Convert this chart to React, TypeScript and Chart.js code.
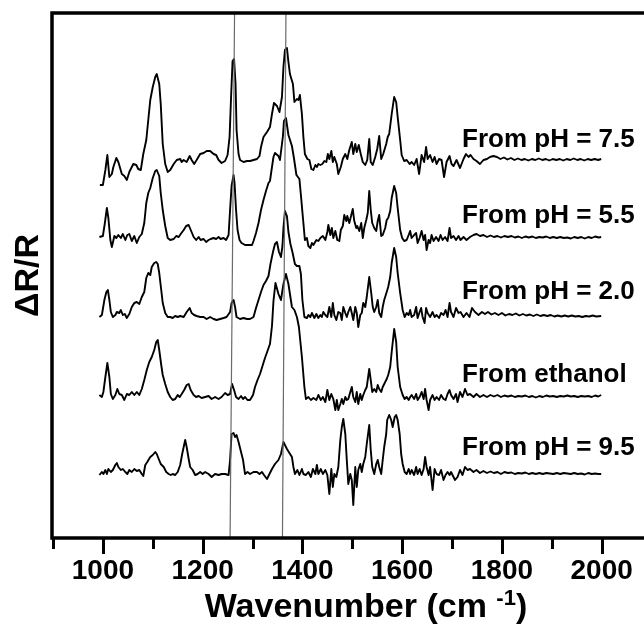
import { useEffect, useRef } from "react";
import { Chart, registerables } from "chart.js";

Chart.register(...registerables);

const FONT = '"Liberation Sans", Arial, Helvetica, sans-serif';

// ---- data (wavenumber cm-1, relative ΔR/R in arbitrary units) ----
const TRACE_NAMES = ["From pH = 7.5", "From pH = 5.5", "From pH = 2.0", "From ethanol", "From pH = 9.5"];
const OFFSETS = [379, 301, 222, 142, 65];
const LABEL_Y = [391, 315, 239, 156, 83];
const LABEL_WN = 1720;

const PH75: number[][] = [
  [994,-26],[1000,-26],[1005,-11],[1009,4],[1013,-18],[1018,-15],[1021,-8],[1027,1],[1031,-3],[1038,-15],[1043,-17],[1048,-21],[1053,-13],[1061,-5],[1067,-6],[1071,-10],[1076,-11],[1081,5],[1087,19],[1091,39],[1095,59],[1100,72],[1105,82],[1108,85],[1113,75],[1116,55],[1120,15],[1125,-5],[1130,-13],[1135,-11],[1142,-5],[1148,-1],[1155,0],[1158,-3],[1162,-1],[1168,-3],[1174,3],[1178,-1],[1183,-5],[1188,-1],[1195,5],[1202,6],[1208,8],[1215,8],[1222,5],[1227,4],[1232,-1],[1238,-4],[1245,-2],[1250,4],[1254,22],[1257,62],[1260,98],[1263,100],[1266,75],[1268,29],[1272,5],[1275,-1],[1282,-3],[1289,-2],[1295,-2],[1302,-1],[1309,0],[1314,3],[1317,12],[1322,22],[1329,27],[1335,32],[1339,45],[1343,56],[1349,53],[1354,47],[1359,62],[1362,92],[1365,109],[1369,111],[1372,97],[1375,85],[1381,75],[1384,57],[1389,60],[1392,59],[1395,64],[1399,45],[1402,22],[1405,5],[1410,0],[1414,-1],[1418,-10],[1422,-11],[1426,-6],[1429,-8],[1432,-5],[1436,-6],[1440,-5],[1444,-2],[1448,-3],[1451,5],[1454,0],[1458,8],[1461,-3],[1464,2],[1469,-5],[1472,-15],[1477,-8],[1481,0],[1486,5],[1490,0],[1494,9],[1499,17],[1502,5],[1506,15],[1509,7],[1513,14],[1517,5],[1521,-3],[1526,-6],[1530,-1],[1534,20],[1537,-3],[1541,-6],[1546,2],[1550,10],[1554,23],[1558,0],[1562,5],[1568,15],[1571,22],[1574,25],[1579,45],[1584,62],[1588,57],[1591,42],[1596,19],[1599,4],[1604,-2],[1609,-1],[1615,-5],[1619,-3],[1624,-6],[1629,0],[1634,-15],[1639,4],[1644,-3],[1648,12],[1651,0],[1656,4],[1661,-3],[1665,2],[1669,-5],[1674,0],[1679,-1],[1684,-18],[1689,-3],[1695,3],[1699,-5],[1703,-7],[1709,-1],[1716,-9],[1723,0],[1728,5],[1733,2],[1737,4],[1743,0],[1749,-2],[1756,-5],[1763,-1],[1770,0],[1776,2],[1783,3],[1790,2],[1797,0],[1804,1.5],[1811,-0.5],[1818,1],[1825,-1],[1832,0.5],[1839,-1],[1846,0],[1853,-1.5],[1860,0],[1867,-1],[1874,0.5],[1881,-1],[1888,0],[1895,-1.5],[1902,0],[1909,-1],[1916,0],[1923,-1.5],[1930,0],[1937,-1],[1944,0.5],[1951,-1],[1958,0],[1965,-1.5],[1972,0],[1979,-1],[1986,0],[1993,-1],[1999,0]
];

const PH55: number[][] = [
  [993,0],[1000,1],[1004,14],[1008,29],[1011,19],[1015,-3],[1018,-10],[1023,1],[1027,-1],[1031,2],[1036,-1],[1040,3],[1045,-3],[1049,2],[1053,3],[1058,-4],[1063,1],[1068,-6],[1073,0],[1078,3],[1083,14],[1087,34],[1091,44],[1095,49],[1100,59],[1105,66],[1108,67],[1113,61],[1116,44],[1120,27],[1125,11],[1130,-1],[1135,-3],[1142,-2],[1147,1],[1152,0],[1156,3],[1162,7],[1167,11],[1172,12],[1177,6],[1182,0],[1187,-3],[1192,0],[1196,-3],[1202,-2],[1207,-5],[1212,-3],[1216,-2],[1222,-1],[1227,-2],[1232,0],[1236,-2],[1242,-1],[1247,-3],[1252,2],[1255,27],[1258,51],[1262,62],[1264,54],[1267,27],[1270,7],[1274,-3],[1278,-6],[1285,-8],[1292,-8],[1299,-8],[1302,-4],[1307,4],[1312,14],[1317,27],[1322,37],[1327,46],[1332,54],[1335,56],[1339,70],[1342,80],[1345,84],[1352,81],[1355,77],[1361,101],[1363,116],[1367,119],[1372,102],[1379,91],[1383,79],[1388,62],[1394,58],[1397,42],[1400,25],[1402,14],[1405,-3],[1409,-1],[1412,-9],[1416,-11],[1419,-6],[1422,-8],[1428,-3],[1432,-4],[1436,-1],[1441,1],[1446,-3],[1450,5],[1452,12],[1456,2],[1459,9],[1462,-1],[1466,6],[1470,-3],[1474,-4],[1477,7],[1481,11],[1484,22],[1488,16],[1490,21],[1494,14],[1498,22],[1501,28],[1504,16],[1508,9],[1510,11],[1514,6],[1518,14],[1521,-1],[1524,9],[1528,17],[1531,24],[1534,46],[1537,27],[1540,14],[1544,9],[1548,6],[1551,16],[1554,22],[1558,1],[1561,2],[1566,9],[1569,17],[1572,19],[1576,26],[1579,39],[1584,51],[1588,44],[1591,29],[1596,7],[1600,-1],[1604,-4],[1609,-3],[1613,2],[1616,6],[1619,-1],[1624,2],[1628,4],[1631,-6],[1635,-1],[1639,6],[1643,-3],[1646,2],[1649,-13],[1653,-3],[1656,-6],[1659,2],[1663,-4],[1668,0],[1673,-4],[1677,2],[1681,-3],[1686,0],[1691,-4],[1695,9],[1698,-1],[1703,1],[1708,-3],[1713,1],[1717,-3],[1723,0],[1729,-3],[1736,0],[1743,2],[1749,3],[1756,1],[1763,2],[1770,0],[1777,1.5],[1784,0],[1791,1],[1798,-0.5],[1805,1],[1812,0],[1819,1],[1826,-0.5],[1833,0.5],[1840,-1],[1847,0.5],[1854,-0.5],[1861,0.5],[1868,-1],[1875,0],[1882,-0.5],[1889,0.5],[1896,-1],[1903,0],[1910,-1],[1917,0],[1924,-1],[1931,-0.5],[1938,-1.5],[1945,0],[1952,-1],[1959,0],[1966,-1.5],[1973,0],[1980,-1],[1987,0.5],[1994,-0.5],[1999,0]
];

const PH20: number[][] = [
  [993,-1],[998,1],[1003,16],[1007,24],[1010,26],[1013,16],[1016,4],[1020,-1],[1025,1],[1028,4],[1033,3],[1036,6],[1040,1],[1044,2],[1048,-2],[1053,2],[1058,9],[1063,13],[1068,14],[1073,12],[1078,19],[1083,24],[1087,38],[1091,43],[1095,41],[1098,49],[1103,53],[1107,54],[1110,52],[1113,43],[1117,26],[1120,13],[1125,3],[1130,-1],[1135,-1],[1140,-2],[1145,0],[1150,-1],[1155,0],[1162,-1],[1168,4],[1174,8],[1178,3],[1183,1],[1188,0],[1195,-1],[1202,-1],[1208,-3],[1215,-1],[1222,-3],[1228,-4],[1235,-3],[1242,-2],[1248,-1],[1255,4],[1258,13],[1262,16],[1265,9],[1268,-1],[1275,-3],[1282,-2],[1289,-3],[1295,-3],[1302,-1],[1307,8],[1312,16],[1317,24],[1322,31],[1327,35],[1332,40],[1336,52],[1341,64],[1345,72],[1349,74],[1353,64],[1357,59],[1360,70],[1362,88],[1365,105],[1369,100],[1372,84],[1376,72],[1380,64],[1385,52],[1389,50],[1394,50],[1397,42],[1400,16],[1404,-1],[1409,-2],[1412,1],[1416,-1],[1419,3],[1424,-2],[1428,2],[1432,-2],[1436,1],[1439,-1],[1442,4],[1446,1],[1450,-1],[1454,9],[1458,-1],[1461,13],[1464,1],[1468,-4],[1472,4],[1476,3],[1479,-4],[1482,9],[1486,3],[1489,-1],[1492,4],[1496,9],[1499,3],[1502,-4],[1506,9],[1509,3],[1512,-11],[1516,1],[1519,3],[1522,13],[1526,9],[1529,19],[1534,39],[1538,23],[1541,9],[1544,4],[1548,9],[1551,16],[1554,3],[1558,-1],[1561,9],[1564,16],[1569,24],[1572,29],[1576,39],[1579,53],[1584,68],[1588,59],[1591,43],[1596,23],[1601,6],[1605,-1],[1609,3],[1613,1],[1616,6],[1619,-1],[1624,1],[1628,9],[1631,-2],[1635,4],[1638,8],[1641,-1],[1645,-7],[1648,8],[1651,3],[1656,-1],[1661,4],[1665,-1],[1669,1],[1674,-2],[1678,3],[1683,1],[1687,6],[1691,-1],[1695,13],[1698,4],[1703,-1],[1708,8],[1713,3],[1717,4],[1723,-1],[1729,3],[1735,-1],[1740,8],[1746,4],[1753,1],[1760,4],[1766,2],[1772,4],[1779,1.5],[1786,3],[1793,1],[1800,3],[1807,0.5],[1814,2],[1821,1],[1828,2.5],[1835,0.5],[1842,2],[1849,0.5],[1856,1.5],[1863,0],[1870,1.5],[1877,0],[1884,1],[1891,0],[1898,1],[1905,-0.5],[1912,0.5],[1919,-0.5],[1926,0.5],[1933,-0.5],[1940,0.5],[1947,-0.5],[1954,0],[1961,-1],[1968,0],[1975,-0.5],[1982,0.5],[1989,-0.5],[1999,0]
];

const ETHANOL: number[][] = [
  [993,1],[998,-1],[1001,4],[1005,19],[1009,33],[1013,19],[1016,2],[1020,-3],[1025,1],[1029,7],[1033,2],[1038,1],[1043,-4],[1048,2],[1053,1],[1058,4],[1063,1],[1068,4],[1073,1],[1078,7],[1083,16],[1088,26],[1093,34],[1098,39],[1103,46],[1107,54],[1110,56],[1113,46],[1117,31],[1120,21],[1125,12],[1130,4],[1135,-1],[1140,-4],[1145,-3],[1150,1],[1154,-1],[1158,2],[1163,6],[1168,11],[1172,12],[1176,6],[1182,1],[1187,-1],[1192,0],[1198,-2],[1205,-1],[1212,0],[1218,-3],[1225,-1],[1232,-3],[1238,-1],[1245,3],[1250,1],[1255,2],[1259,12],[1263,6],[1267,-1],[1272,-3],[1277,0],[1281,-3],[1285,-1],[1290,-4],[1295,-4],[1301,1],[1305,9],[1310,16],[1315,22],[1320,30],[1325,38],[1330,45],[1335,52],[1339,70],[1342,95],[1346,113],[1352,102],[1357,96],[1362,112],[1367,122],[1372,112],[1379,89],[1384,86],[1389,79],[1393,69],[1399,39],[1404,9],[1407,-3],[1412,-1],[1417,-4],[1422,-2],[1428,-4],[1432,1],[1437,-4],[1441,-1],[1446,-6],[1450,6],[1454,-4],[1458,2],[1462,-3],[1466,-14],[1469,-4],[1472,-14],[1476,-8],[1479,-3],[1482,-8],[1486,-1],[1489,-4],[1492,-3],[1496,4],[1499,9],[1502,-1],[1506,-6],[1509,4],[1512,-8],[1516,2],[1519,-4],[1522,1],[1526,6],[1529,9],[1534,27],[1537,16],[1540,4],[1544,7],[1548,4],[1551,11],[1554,7],[1558,4],[1561,9],[1564,12],[1569,17],[1572,21],[1576,29],[1579,44],[1584,67],[1588,54],[1591,29],[1596,9],[1601,1],[1605,-3],[1609,-1],[1613,-4],[1616,-1],[1619,1],[1624,-3],[1628,2],[1631,-4],[1635,-1],[1639,4],[1643,-3],[1646,7],[1649,-4],[1653,-14],[1656,-4],[1661,1],[1665,-4],[1669,-1],[1674,-4],[1678,1],[1683,-3],[1687,-4],[1691,2],[1695,6],[1698,1],[1703,-3],[1708,2],[1711,-6],[1716,4],[1721,-1],[1726,7],[1731,1],[1736,2],[1743,-1],[1749,2],[1756,-1],[1763,1],[1770,-1],[1777,1],[1784,-0.5],[1791,1],[1798,-1],[1805,0.5],[1812,-0.5],[1819,0.5],[1826,-1],[1833,0],[1840,-0.5],[1847,0.5],[1854,-1],[1861,0],[1868,-1.5],[1875,0],[1882,-1],[1889,0.5],[1896,-0.5],[1903,0],[1910,-1],[1917,0],[1924,-0.5],[1931,0.5],[1938,-0.5],[1945,0],[1952,-1],[1959,0],[1966,-0.5],[1973,0],[1980,-1],[1987,0.5],[1993,-0.5],[1999,1]
];

const PH95: number[][] = [
  [993,-2],[998,1],[1001,-1],[1005,3],[1008,-1],[1011,4],[1016,1],[1020,3],[1025,8],[1028,10],[1031,6],[1036,3],[1040,4],[1045,1],[1049,-1],[1053,3],[1058,1],[1063,4],[1068,2],[1073,3],[1078,-1],[1081,-3],[1085,8],[1089,11],[1095,16],[1100,18],[1105,21],[1108,19],[1112,14],[1116,9],[1122,6],[1127,1],[1132,-1],[1136,-2],[1140,-1],[1145,-2],[1150,1],[1155,8],[1159,19],[1162,26],[1165,33],[1168,26],[1172,14],[1175,6],[1180,3],[1185,-2],[1190,-1],[1195,1],[1200,-1],[1205,1],[1212,-1],[1218,-4],[1225,-1],[1232,-2],[1238,-1],[1245,-1],[1252,-2],[1255,13],[1258,39],[1262,40],[1265,36],[1268,38],[1272,31],[1277,21],[1281,13],[1285,-1],[1290,1],[1295,-1],[1302,1],[1309,1],[1314,-1],[1319,1],[1323,-2],[1329,-6],[1334,-1],[1339,4],[1345,9],[1352,13],[1357,19],[1362,31],[1369,24],[1374,20],[1379,16],[1382,6],[1385,-1],[1390,3],[1394,-2],[1399,4],[1402,-1],[1407,-2],[1412,1],[1417,-4],[1421,4],[1426,-1],[1429,8],[1432,-1],[1437,4],[1441,-1],[1446,3],[1450,-2],[1454,-21],[1458,4],[1461,-14],[1464,-1],[1468,-4],[1472,6],[1476,33],[1479,46],[1482,54],[1486,39],[1489,13],[1492,-11],[1496,-1],[1499,-7],[1502,-32],[1506,6],[1509,-14],[1512,3],[1516,9],[1519,1],[1522,9],[1526,16],[1529,29],[1534,48],[1537,23],[1540,6],[1544,-1],[1548,9],[1551,13],[1554,6],[1558,-1],[1561,13],[1564,26],[1568,39],[1570,53],[1574,58],[1578,53],[1581,46],[1585,56],[1588,58],[1591,53],[1595,39],[1598,19],[1601,9],[1605,1],[1609,-1],[1613,4],[1616,-1],[1619,3],[1624,-2],[1628,6],[1631,-1],[1635,4],[1639,-2],[1643,4],[1646,16],[1649,6],[1653,-2],[1656,6],[1661,-17],[1665,4],[1669,-1],[1674,-2],[1678,3],[1683,-7],[1687,-2],[1691,1],[1695,-2],[1698,1],[1703,-4],[1706,-7],[1711,-4],[1716,3],[1721,-2],[1726,6],[1731,3],[1736,4],[1743,1],[1749,3],[1756,0],[1763,2],[1770,0],[1777,1.5],[1784,0],[1791,1],[1798,-1],[1805,1],[1812,0],[1819,0.5],[1826,-1],[1833,0],[1840,-0.5],[1847,0.5],[1854,-1],[1861,0],[1868,-1],[1875,0],[1882,-1],[1889,0],[1896,-0.5],[1903,-1],[1910,0],[1917,-1],[1924,0],[1931,-0.5],[1938,-1],[1945,0],[1952,-1],[1959,-0.5],[1966,-1.5],[1973,0],[1980,-1],[1987,-0.5],[1993,-1],[1999,-1]
];

const TRACES = [PH75, PH55, PH20, ETHANOL, PH95];

const X_MIN = 898;
const X_MAX = 2157;
const Y_MIN = 0;
const Y_MAX = 525;
const X_TICKS = [1000, 1200, 1400, 1600, 1800, 2000];
const X_MINOR = [900, 1100, 1300, 1500, 1700, 1900, 2100];
const MARKER_TOP = [1264, 1367];
const MARKER_BOTTOM = [1255, 1360];

const framePlugin = {
  id: "frameAndText",
  afterDraw(chart: any) {
    const { ctx, chartArea: a, scales } = chart;
    const x = scales.x;
    const y = scales.y;
    ctx.save();
    ctx.strokeStyle = "#000";
    ctx.lineWidth = 3.5;
    ctx.strokeRect(a.left, a.top, a.right - a.left, a.bottom - a.top);
    ctx.lineWidth = 3;
    ctx.beginPath();
    for (const v of X_TICKS) {
      const px = Math.round(x.getPixelForValue(v)) + 0.5;
      ctx.moveTo(px, a.bottom);
      ctx.lineTo(px, a.bottom + 16);
    }
    for (const v of X_MINOR) {
      const px = Math.round(x.getPixelForValue(v)) + 0.5;
      ctx.moveTo(px, a.bottom);
      ctx.lineTo(px, a.bottom + 11);
    }
    ctx.stroke();

    ctx.fillStyle = "#000";
    ctx.textAlign = "left";
    ctx.textBaseline = "alphabetic";
    ctx.font = `bold 26px ${FONT}`;
    TRACE_NAMES.forEach((t, i) => {
      ctx.fillText(t, x.getPixelForValue(LABEL_WN), y.getPixelForValue(LABEL_Y[i]));
    });

    // x axis title with superscript
    const main1 = "Wavenumber (cm ";
    const sup = "-1";
    const main2 = ")";
    const bigFont = `bold 34px ${FONT}`;
    const supFont = `bold 22px ${FONT}`;
    ctx.font = bigFont;
    const w1 = ctx.measureText(main1).width;
    const w3 = ctx.measureText(main2).width;
    ctx.font = supFont;
    const w2 = ctx.measureText(sup).width;
    const total = w1 + w2 + w3;
    const cx = (a.left + a.right) / 2;
    const base = 617;
    let sx = cx - total / 2;
    ctx.font = bigFont;
    ctx.fillText(main1, sx, base);
    sx += w1;
    ctx.font = supFont;
    ctx.fillText(sup, sx, base - 12);
    sx += w2;
    ctx.font = bigFont;
    ctx.fillText(main2, sx, base);
    ctx.restore();
  },
};

export default function App() {
  const ref = useRef<HTMLCanvasElement | null>(null);

  useEffect(() => {
    const canvas = ref.current;
    if (!canvas) return;

    const datasets: any[] = [];
    MARKER_TOP.forEach((top, i) => {
      datasets.push({
        data: [
          { x: top, y: Y_MAX },
          { x: MARKER_BOTTOM[i], y: Y_MIN },
        ],
        borderColor: "#6a6a6a",
        borderWidth: 1.2,
        pointRadius: 0,
        tension: 0,
      });
    });
    TRACES.forEach((tr, i) => {
      datasets.push({
        label: TRACE_NAMES[i],
        data: tr.map(([w, v]) => ({ x: w, y: v + OFFSETS[i] })),
        borderColor: "#000",
        borderWidth: 1.9,
        pointRadius: 0,
        tension: 0,
        borderJoinStyle: "round",
      });
    });

    const chart = new Chart(canvas, {
      type: "line",
      data: { datasets },
      options: {
        responsive: false,
        maintainAspectRatio: false,
        animation: false,
        devicePixelRatio: 1,
        layout: { padding: { top: 13, left: 0, right: 0, bottom: 0 } },
        plugins: { legend: { display: false }, tooltip: { enabled: false } },
        scales: {
          x: {
            type: "linear",
            position: "bottom",
            min: X_MIN,
            max: X_MAX,
            afterBuildTicks: (s: any) => {
              s.ticks = X_TICKS.map((v) => ({ value: v }));
            },
            afterFit: (s: any) => {
              s.height = 91;
            },
            grid: { display: false, drawTicks: false },
            border: { display: false },
            ticks: {
              autoSkip: false,
              maxRotation: 0,
              minRotation: 0,
              padding: 16,
              color: "#000",
              font: { family: FONT, size: 28, weight: "bold" },
              callback: (v: any) => String(v),
            },
          },
          y: {
            type: "linear",
            min: Y_MIN,
            max: Y_MAX,
            afterFit: (s: any) => {
              s.width = 52;
            },
            grid: { display: false, drawTicks: false },
            border: { display: false },
            ticks: { display: false },
            title: {
              display: true,
              text: "ΔR/R",
              color: "#000",
              font: { family: FONT, size: 34, weight: "bold" },
              padding: { top: 8, bottom: 0 },
            },
          },
        },
      },
      plugins: [framePlugin],
    });

    return () => chart.destroy();
  }, []);

  return (
    <div
      style={{
        position: "fixed",
        left: 0,
        top: 0,
        width: 644,
        height: 629,
        overflow: "hidden",
        background: "#fff",
      }}
    >
      <canvas ref={ref} width={680} height={629} style={{ display: "block", width: 680, height: 629 }} />
    </div>
  );
}
